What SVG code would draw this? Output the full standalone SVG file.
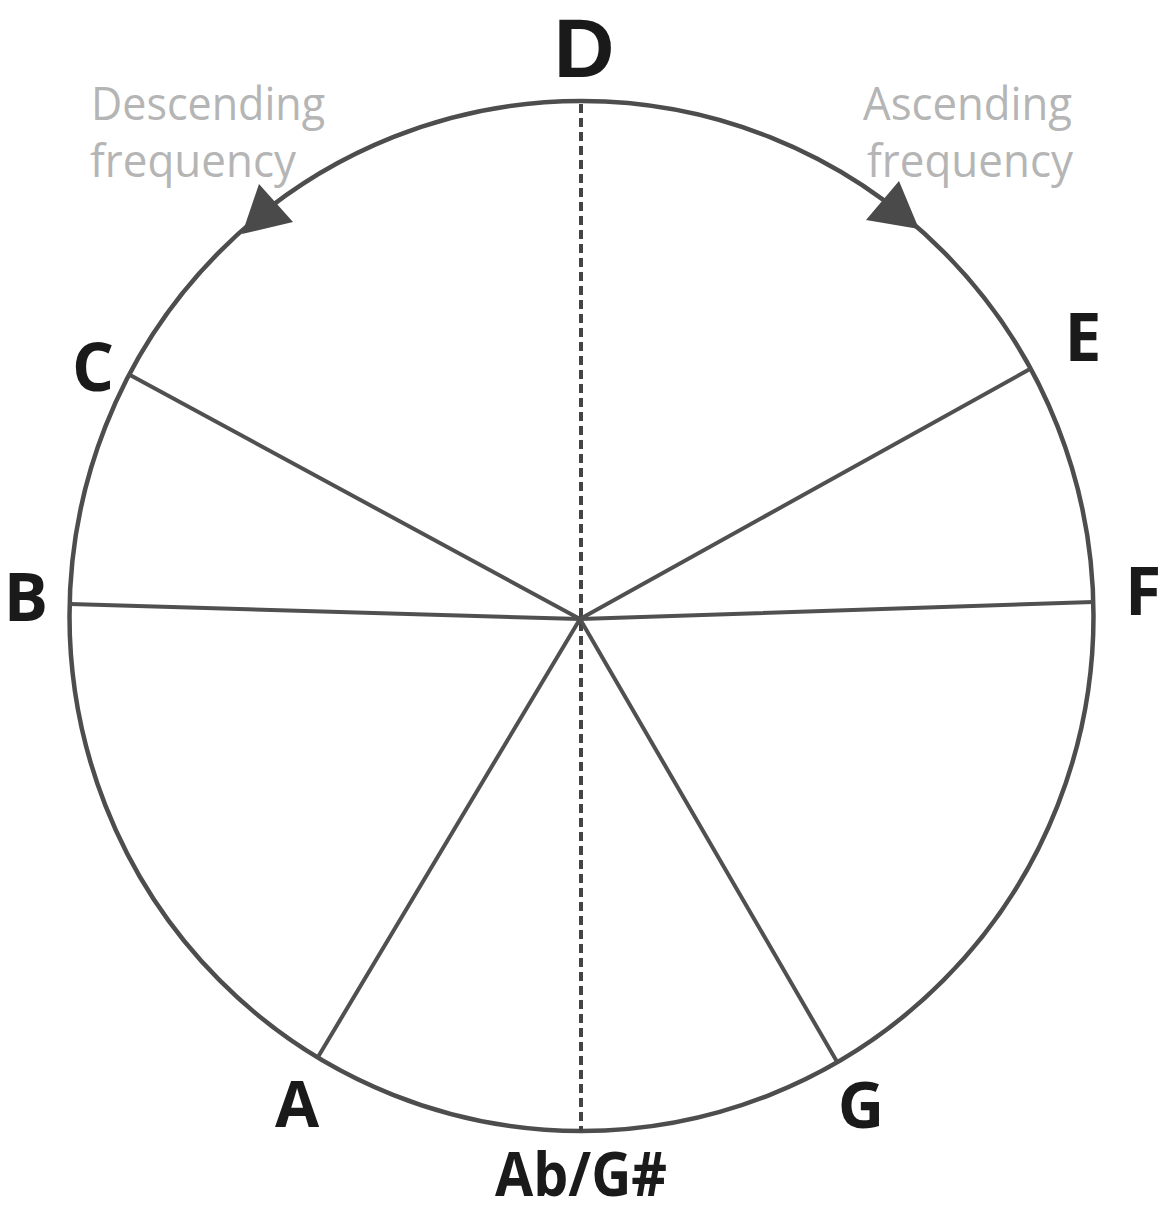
<svg xmlns="http://www.w3.org/2000/svg" width="1167" height="1212" viewBox="0 0 1167 1212">
<style>
.lbl{font-family:"Open Sans","Noto Sans","Liberation Sans",sans-serif;font-weight:bold;fill:#1a1a1a;text-anchor:middle}
.cap{font-family:"Open Sans","Noto Sans","Liberation Sans",sans-serif;fill:#b5b5b5;font-size:46px}
.ln{stroke:#505050;stroke-width:4;fill:none;stroke-linecap:round}
.ah{fill:#4a4a4a}
</style>
<rect width="1167" height="1212" fill="#ffffff"/>
<g id="connectors">
<ellipse cx="581.5" cy="616" rx="512" ry="515" fill="none" stroke="#4d4d4d" stroke-width="4.5"/>
<line x1="581" y1="104" x2="581" y2="1131" stroke="#444" stroke-width="4" stroke-dasharray="9 5"/>
<line class="ln" x1="580" y1="619" x2="130" y2="375"/>
<line class="ln" x1="580" y1="619" x2="70" y2="604"/>
<line class="ln" x1="580" y1="619" x2="318" y2="1057"/>
<line class="ln" x1="580" y1="619" x2="836" y2="1060"/>
<line class="ln" x1="580" y1="619" x2="1093" y2="602"/>
<line class="ln" x1="580" y1="619" x2="1030" y2="369"/>
<polygon class="ah" points="242,234 259,184 293,222"/>
<polygon class="ah" points="919,229 899,181 866,220"/>
</g>
<g id="node-D"><text class="lbl" x="584" y="77" font-size="84" style="font-family:'Liberation Sans',sans-serif">D</text></g>
<g id="node-C"><text class="lbl" x="93" y="391" font-size="66">C</text></g>
<g id="node-B"><text class="lbl" x="26" y="621" font-size="66">B</text></g>
<g id="node-A"><text class="lbl" x="297" y="1127" font-size="64">A</text></g>
<g id="node-AbG"><text class="lbl" x="581" y="1196" font-size="60" textLength="172" lengthAdjust="spacingAndGlyphs">Ab/G#</text></g>
<g id="node-G"><text class="lbl" x="861" y="1128" font-size="64">G</text></g>
<g id="node-F"><text class="lbl" x="1143" y="615" font-size="66">F</text></g>
<g id="node-E"><text class="lbl" x="1083" y="361" font-size="66">E</text></g>
<g id="label-descending">
<text class="cap" x="91" y="120" textLength="234" lengthAdjust="spacingAndGlyphs">Descending</text>
<text class="cap" x="90" y="177" textLength="206" lengthAdjust="spacingAndGlyphs">frequency</text>
</g>
<g id="label-ascending">
<text class="cap" x="863" y="120" textLength="209" lengthAdjust="spacingAndGlyphs">Ascending</text>
<text class="cap" x="867" y="177" textLength="206" lengthAdjust="spacingAndGlyphs">frequency</text>
</g>
</svg>
